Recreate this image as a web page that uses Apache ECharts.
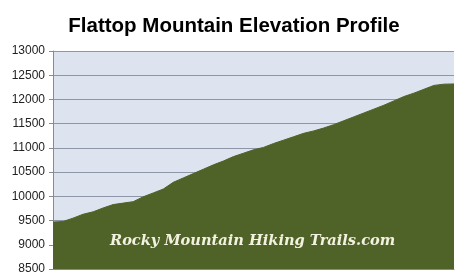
<!DOCTYPE html>
<html><head><meta charset="utf-8">
<script src="https://cdn.jsdelivr.net/npm/echarts@6/dist/echarts.min.js"></script>
<style>html,body{margin:0;padding:0;background:#fff;}#c{width:468px;height:280px;}</style>
</head><body><div id="c"></div>
<script>
var categories = [];
for (var i = 0; i <= 40; i++) categories.push(String(i));
var elevation = [9470, 9480, 9550, 9630, 9680, 9760, 9830, 9860, 9890, 9990,
  10070, 10150, 10290, 10380, 10470, 10560, 10650, 10730, 10820, 10890,
  10960, 11010, 11090, 11160, 11230, 11300, 11350, 11410, 11480, 11560,
  11640, 11720, 11800, 11880, 11970, 12060, 12130, 12210, 12290, 12315, 12320];
var yTicks = {min: 8500, max: 13000, step: 500};

var chart = echarts.init(document.getElementById('c'));
chart.setOption({
  animation: false,
  title: {
    text: 'Flattop Mountain Elevation Profile',
    left: 'center', top: 11,
    textStyle: {fontFamily: 'Liberation Sans', fontWeight: 'bold', fontSize: 20.5, color: '#000'}
  },
  grid: {left: 53, right: 14, top: 51, bottom: 11, show: true, backgroundColor: '#dde4f0', borderWidth: 0},
  xAxis: {
    type: 'category', data: categories, boundaryGap: false,
    axisLine: {show: true, lineStyle: {color: '#8a8a8a', width: 1}},
    axisTick: {show: false}, axisLabel: {show: false}, splitLine: {show: false}
  },
  yAxis: {
    type: 'value', min: yTicks.min, max: yTicks.max, interval: yTicks.step,
    axisLine: {show: true, lineStyle: {color: '#8a8a8a', width: 1}},
    axisTick: {show: true, length: 4, lineStyle: {color: '#8a8a8a'}},
    axisLabel: {fontFamily: 'Liberation Sans', fontSize: 12, color: '#222', margin: 8,
      formatter: function (v) { return String(v); }},
    splitLine: {show: true, lineStyle: {color: '#8d96a6', width: 1}}
  },
  series: [{
    type: 'line', data: elevation, symbol: 'none', smooth: false,
    lineStyle: {color: '#4f6228', width: 1},
    areaStyle: {color: '#4f6228', opacity: 1}
  }],
  graphic: [{
    type: 'text', left: 110, top: 234, z: 100,
    style: {text: 'Rocky Mountain Hiking Trails.com', fill: '#f3f1df',
      font: 'italic bold 14.6px "DejaVu Serif"'}
  }]
});
</script></body></html>
